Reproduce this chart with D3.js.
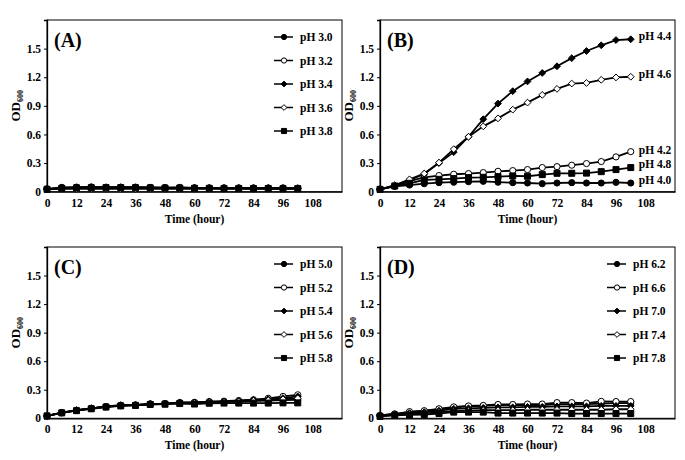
<!DOCTYPE html>
<html><head><meta charset="utf-8">
<script src="https://cdn.jsdelivr.net/npm/d3@7/dist/d3.min.js"></script>
<style>
html,body{margin:0;padding:0;background:#fff;}
svg text{font-family:"Liberation Serif","Times New Roman",serif;font-weight:bold;fill:#000;}
</style></head>
<body>
<svg id="chart" width="685" height="460"></svg>
<script>
const hours = [0,6,12,18,24,30,36,42,48,54,60,66,72,78,84,90,96,102];
const xTicks = [0,12,24,36,48,60,72,84,96,108];
const yTicks = [0,0.3,0.6,0.9,1.2,1.5];

// Panel A
const labelsA = ["pH 3.0","pH 3.2","pH 3.4","pH 3.6","pH 3.8"];
const pH30 = [0.030,0.045,0.048,0.050,0.048,0.048,0.048,0.045,0.043,0.045,0.040,0.040,0.040,0.040,0.040,0.040,0.040,0.038];
const pH32 = [0.028,0.040,0.044,0.045,0.045,0.046,0.045,0.043,0.042,0.042,0.040,0.038,0.038,0.037,0.037,0.036,0.036,0.035];
const pH34 = [0.027,0.038,0.042,0.043,0.043,0.044,0.043,0.042,0.040,0.040,0.038,0.037,0.036,0.036,0.035,0.035,0.034,0.034];
const pH36 = [0.025,0.030,0.030,0.030,0.030,0.030,0.030,0.030,0.030,0.030,0.030,0.030,0.030,0.030,0.030,0.030,0.030,0.030];
const pH38 = [0.025,0.035,0.040,0.042,0.042,0.043,0.042,0.040,0.038,0.038,0.036,0.035,0.034,0.034,0.033,0.033,0.032,0.032];

// Panel B
const labelsB = ["pH 4.0","pH 4.2","pH 4.4","pH 4.6","pH 4.8"];
const pH40 = [0.025,0.056,0.070,0.084,0.095,0.100,0.105,0.109,0.100,0.095,0.091,0.084,0.091,0.095,0.091,0.091,0.098,0.091];
const pH42 = [0.025,0.060,0.110,0.150,0.169,0.183,0.190,0.200,0.214,0.221,0.232,0.253,0.263,0.278,0.295,0.316,0.365,0.420];
const pH44 = [0.025,0.067,0.120,0.186,0.300,0.415,0.576,0.760,0.924,1.054,1.156,1.245,1.315,1.400,1.475,1.535,1.590,1.598];
const pH46 = [0.025,0.067,0.130,0.190,0.305,0.446,0.576,0.685,0.769,0.860,0.934,1.015,1.078,1.134,1.140,1.173,1.198,1.205];
const pH48 = [0.025,0.060,0.088,0.123,0.130,0.137,0.148,0.151,0.158,0.165,0.162,0.179,0.193,0.193,0.195,0.210,0.232,0.253];
const endLabelYB = [180,150,36,74,164];

// Panel C
const labelsC = ["pH 5.0","pH 5.2","pH 5.4","pH 5.6","pH 5.8"];
const pH50 = [0.025,0.060,0.085,0.105,0.122,0.135,0.140,0.150,0.155,0.163,0.165,0.170,0.175,0.178,0.182,0.185,0.190,0.195];
const pH52 = [0.025,0.060,0.085,0.105,0.124,0.138,0.140,0.152,0.155,0.166,0.168,0.176,0.180,0.187,0.195,0.210,0.230,0.247];
const pH54 = [0.025,0.058,0.083,0.103,0.122,0.136,0.139,0.150,0.154,0.164,0.166,0.174,0.176,0.183,0.194,0.200,0.212,0.230];
const pH56 = [0.025,0.058,0.083,0.103,0.120,0.134,0.138,0.148,0.152,0.160,0.163,0.170,0.172,0.178,0.185,0.190,0.200,0.210];
const pH58 = [0.025,0.057,0.080,0.100,0.118,0.130,0.135,0.145,0.148,0.155,0.150,0.158,0.160,0.160,0.160,0.160,0.162,0.162];

// Panel D
const labelsD = ["pH 6.2","pH 6.6","pH 7.0","pH 7.4","pH 7.8"];
const pH62 = [0.030,0.045,0.065,0.075,0.095,0.115,0.125,0.130,0.140,0.140,0.140,0.140,0.150,0.150,0.150,0.155,0.160,0.160];
const pH66 = [0.030,0.045,0.070,0.080,0.100,0.120,0.130,0.135,0.145,0.145,0.150,0.150,0.165,0.165,0.160,0.178,0.176,0.176];
const pH70 = [0.030,0.040,0.055,0.065,0.080,0.100,0.105,0.110,0.115,0.115,0.120,0.120,0.125,0.125,0.125,0.130,0.130,0.130];
const pH74 = [0.025,0.035,0.045,0.050,0.065,0.075,0.080,0.085,0.085,0.085,0.090,0.090,0.090,0.090,0.090,0.090,0.095,0.095];
const pH78 = [0.020,0.030,0.035,0.040,0.050,0.065,0.065,0.065,0.055,0.055,0.055,0.055,0.055,0.050,0.050,0.050,0.050,0.050];

const markers = ["circleF","circleO","diamondF","diamondO","squareF"];

const panels = [
  {tag:"(A)", box:[47,20,342,191.7], labels:labelsA, series:[pH30,pH32,pH34,pH36,pH38], legend:"box"},
  {tag:"(B)", box:[380,20,675,191.7], labels:labelsB, series:[pH40,pH42,pH44,pH46,pH48], legend:"end"},
  {tag:"(C)", box:[47,247,342,418.3], labels:labelsC, series:[pH50,pH52,pH54,pH56,pH58], legend:"box"},
  {tag:"(D)", box:[380,247,675,418.3], labels:labelsD, series:[pH62,pH66,pH70,pH74,pH78], legend:"box"}
];

const svg = d3.select("#chart");

function drawMarker(g, type, x, y, scale){
  const s = scale || 1;
  let d;
  if (type.startsWith("circle")) d = d3.symbol().type(d3.symbolCircle).size(30*s*s)();
  else if (type.startsWith("diamond")) { const r = 3.4*s; d = `M0,${-r}L${r},0L0,${r}L${-r},0Z`; }
  else d = d3.symbol().type(d3.symbolSquare).size(36*s*s)();
  const fill = type.endsWith("F") ? "#000" : "#fff";
  g.append("path").attr("d", d).attr("transform", `translate(${x},${y})`)
    .attr("fill", fill).attr("stroke", "#000").attr("stroke-width", 1);
}

panels.forEach(p => {
  const [x0,y0,x1,y1] = p.box;
  const x = d3.scaleLinear().domain([0,120]).range([x0,x1]);
  const y = d3.scaleLinear().domain([0,1.8]).range([y1,y0]);
  const g = svg.append("g");

  g.append("rect").attr("x",x0).attr("y",y0).attr("width",x1-x0).attr("height",y1-y0)
    .attr("fill","none").attr("stroke","#000").attr("stroke-width",1);

  const xa = g.append("g").attr("transform",`translate(0,${y1})`)
    .call(d3.axisBottom(x).tickValues(xTicks).tickSize(0).tickPadding(7).tickFormat(d3.format("d")));
  xa.select(".domain").attr("stroke","#000").attr("stroke-width",1.3);
  xa.selectAll("text").style("font-size","11.5px").style("font-family","Liberation Serif").style("font-weight","bold");

  const ya = g.append("g").attr("transform",`translate(${x0},0)`)
    .call(d3.axisLeft(y).tickValues(yTicks).tickSize(3).tickPadding(3).tickFormat(v => v===0 ? "0" : v.toFixed(1)));
  ya.select(".domain").attr("stroke","#000").attr("stroke-width",1.3);
  ya.selectAll("line").attr("stroke","#000");
  ya.selectAll("text").style("font-size","11.5px").style("font-family","Liberation Serif").style("font-weight","bold");

  g.append("text").attr("x",(x0+x1)/2).attr("y",y1+31).attr("text-anchor","middle")
    .style("font-size","11.5px").text("Time (hour)");
  const yl = g.append("text").attr("transform",`translate(${x0-27},${(y0+y1)/2}) rotate(-90)`)
    .attr("text-anchor","middle").style("font-size","13px");
  yl.append("tspan").text("OD");
  yl.append("tspan").attr("dy",3).style("font-size","8px").text("600");

  g.append("text").attr("x",x0+7).attr("y",y0+27).style("font-size","20px").text(p.tag);

  const line = d3.line().x((d,i)=>x(hours[i])).y(d=>y(d));
  p.series.forEach(s => {
    g.append("path").datum(s).attr("d",line).attr("fill","none")
      .attr("stroke","#000").attr("stroke-width",1.8);
  });
  p.series.forEach((s,k) => {
    s.forEach((v,i) => drawMarker(g, markers[k], x(hours[i]), y(v)));
  });

  if (p.legend === "box") {
    p.labels.forEach((lab,k) => {
      const ly = y0 + 17 + k*23.5;
      const lx = x1 - 68;
      g.append("line").attr("x1",lx).attr("x2",lx+19).attr("y1",ly).attr("y2",ly)
        .attr("stroke","#000").attr("stroke-width",1.5);
      drawMarker(g, markers[k], lx+10, ly, 0.85);
      g.append("text").attr("x",lx+26).attr("y",ly+4).style("font-size","11.5px").text(lab);
    });
  } else {
    p.labels.forEach((lab,k) => {
      g.append("text").attr("x",x(102)+8).attr("y",endLabelYB[k]+4).style("font-size","11.5px").text(lab);
    });
  }
});
</script>
</body></html>
